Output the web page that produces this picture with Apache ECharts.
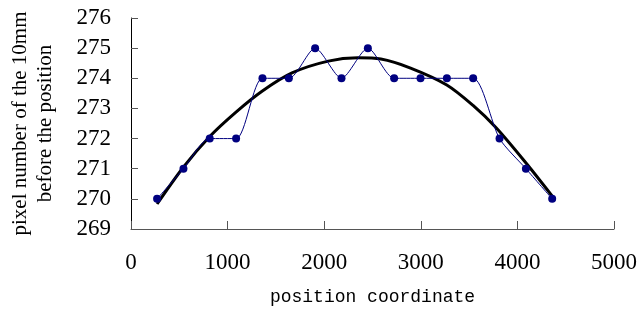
<!DOCTYPE html>
<html>
<head>
<meta charset="utf-8">
<script src="https://cdn.jsdelivr.net/npm/echarts@6/dist/echarts.min.js"></script>
<style>
  html, body { margin: 0; padding: 0; background: #fff; }
  #chart { width: 640px; height: 312px; }
</style>
</head>
<body>
<div id="chart"></div>
<script>
// measured points (position coordinate -> pixel count)
const positions = [270, 543, 815, 1088, 1361, 1634, 1906, 2179, 2452, 2724, 2997, 3270, 3542, 3815, 4088, 4360];
const pixelCounts = [270, 271, 272, 272, 274, 274, 275, 274, 275, 274, 274, 274, 274, 272, 271, 270];

// fitted trend curve
const trendX = [270, 542, 815, 1087, 1360, 1667, 2042, 2349, 2587, 2894, 3269, 3541, 3780, 4087, 4359];
const trendY = [269.83, 271.05, 272.07, 272.88, 273.58, 274.18, 274.57, 274.68, 274.64, 274.34, 273.78, 273.10, 272.36, 271.20, 270.10];

const yTitle = 'pixel number of the 10mm\nbefore the position';
const xTitle = 'position coordinate';

const chart = echarts.init(document.getElementById('chart'));

chart.setOption({
  animation: false,
  backgroundColor: '#fff',
  grid: { left: 127, right: 24, top: 18, bottom: 83 },
  xAxis: {
    type: 'value',
    min: 0,
    max: 5000,
    interval: 1000,
    name: xTitle,
    nameLocation: 'middle',
    nameGap: 59,
    nameTextStyle: { fontFamily: 'Liberation Mono', fontSize: 18, color: '#000' },
    axisLine: { lineStyle: { color: '#555', width: 1 } },
    axisTick: { inside: true, length: 8, lineStyle: { color: '#555' } },
    axisLabel: {
      margin: 22, fontFamily: 'Liberation Serif', fontSize: 23, color: '#000',
      formatter: v => String(v)
    },
    splitLine: { show: false }
  },
  yAxis: {
    type: 'value',
    min: 269,
    max: 276,
    interval: 1,
    name: yTitle,
    nameLocation: 'middle',
    nameRotate: 90,
    nameGap: 73,
    nameTextStyle: { fontFamily: 'Liberation Serif', fontSize: 21, color: '#000', lineHeight: 25, align: 'center' },
    axisLine: { show: true, lineStyle: { color: '#000', width: 1 } },
    axisTick: { show: true, inside: true, length: 7, lineStyle: { color: '#555' } },
    axisLabel: { margin: 20, fontFamily: 'Liberation Serif', fontSize: 23, color: '#000' },
    splitLine: { show: false }
  },
  series: [
    {
      type: 'line',
      data: positions.map((x, i) => [x, pixelCounts[i]]),
      smooth: 0.25,
      symbol: 'circle',
      symbolSize: 8,
      lineStyle: { color: '#000080', width: 1 },
      itemStyle: { color: '#000080' },
      z: 3
    },
    {
      type: 'line',
      data: trendX.map((x, i) => [x, trendY[i]]),
      smooth: 0.3,
      symbol: 'none',
      lineStyle: { color: '#000', width: 3 },
      z: 2
    }
  ]
});
</script>
</body>
</html>
